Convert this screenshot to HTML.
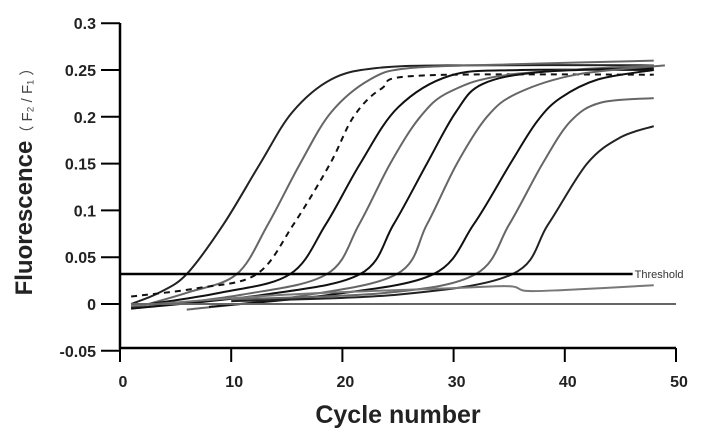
<!DOCTYPE html>
<html><head><meta charset="utf-8"><style>
body{margin:0;background:#fff;}
svg{display:block;font-family:"Liberation Sans",sans-serif;}
</style></head><body>
<svg id="chart" width="717" height="443"></svg>
<script>
const xTicks=[0,10,20,30,40,50];
const yTicks=[-0.05,0,0.05,0.1,0.15,0.2,0.25,0.3];
const yTickLabels=["-0.05","0","0.05","0.1","0.15","0.2","0.25","0.3"];
const thresholdValue=0.032;
const c1=[[1,0],[3.5,0.012],[6,0.032],[9.3,0.085],[12.6,0.15],[15.5,0.205],[19,0.24],[23,0.252],[30,0.255],[48,0.255]];
const c2=[[1,-0.005],[6,0.012],[10.5,0.032],[13.3,0.085],[16.2,0.15],[19,0.205],[22.5,0.24],[26,0.252],[35,0.256],[48,0.26]];
const c3=[[1,0.008],[7,0.017],[12.3,0.032],[15.6,0.085],[18.9,0.15],[21,0.2],[23.5,0.23],[27,0.244],[48,0.245]];
const c4=[[1,-0.003],[9,0.012],[15.3,0.032],[18.5,0.085],[21.6,0.15],[25,0.21],[29.7,0.244],[36,0.25],[48,0.25]];
const c5=[[1,-0.005],[11,0.01],[18.6,0.032],[21.5,0.085],[24.3,0.15],[27,0.2],[29.7,0.227],[35,0.245],[48,0.255]];
const c6=[[1,-0.005],[13,0.01],[21.6,0.032],[24.6,0.085],[27.6,0.15],[30.2,0.205],[32.6,0.235],[38,0.248],[48,0.252]];
const c7=[[6,-0.006],[16,0.008],[24.9,0.032],[27.6,0.085],[30.3,0.15],[33,0.2],[35.7,0.225],[41,0.245],[49,0.255]];
const c8=[[8,-0.003],[19,0.01],[28.2,0.032],[31.8,0.085],[35.1,0.15],[37.5,0.195],[39.6,0.22],[43,0.24],[48,0.25]];
const c9=[[10,0.005],[24,0.012],[32,0.032],[35,0.085],[38,0.15],[40.5,0.195],[43.2,0.215],[48,0.22]];
const c10=[[10,0.003],[25,0.01],[35.3,0.032],[38.5,0.085],[42,0.15],[45,0.178],[48,0.19]];
const c11=[[1,-0.002],[15,0.01],[30,0.017],[35,0.019],[36.5,0.014],[40,0.015],[48,0.02]];
const c12=[[1,0],[50,0]];
const series=[[c1,"#222",false],[c2,"#666",false],[c3,"#111",true],[c4,"#111",false],[c5,"#666",false],[c6,"#111",false],[c7,"#666",false],[c8,"#111",false],[c9,"#666",false],[c10,"#222",false],[c11,"#777",false],[c12,"#666",false]];
const NS="http://www.w3.org/2000/svg";
const svg=document.getElementById('chart');
const X=v=>120+v*11.12;
const Y=v=>304-v*936;
function mk(t,a,p){const e=document.createElementNS(NS,t);for(const k in a)e.setAttribute(k,a[k]);(p||svg).appendChild(e);return e;}
function path(pts){const P=pts.map(p=>[X(p[0]),Y(p[1])]);let d="M"+P[0][0]+","+P[0][1];
for(let i=0;i<P.length-1;i++){const p0=P[i-1]||P[i],p1=P[i],p2=P[i+1],p3=P[i+2]||p2;
d+=" C"+(p1[0]+(p2[0]-p0[0])/6)+","+(p1[1]+(p2[1]-p0[1])/6)+" "+(p2[0]-(p3[0]-p1[0])/6)+","+(p2[1]-(p3[1]-p1[1])/6)+" "+p2[0]+","+p2[1];}return d;}
series.forEach((s,i)=>{const e=mk('path',{d:path(s[0]),fill:'none',stroke:s[1],'stroke-width':2,'stroke-dasharray':s[2]?'6,5':'none'});

});
const th=mk('line',{x1:X(0),x2:X(46.1),y1:Y(thresholdValue),y2:Y(thresholdValue),stroke:'#000','stroke-width':2.5});


const tl=mk('text',{x:X(46.1)+2,y:Y(thresholdValue)+4,'font-size':11,fill:'#333'});tl.textContent='Threshold';


const ax=mk('path',{d:"M120,23 L120,348 L676,348",fill:'none',stroke:'#000','stroke-width':2.5});


yTicks.forEach((v,i)=>{mk('line',{x1:101,x2:120,y1:Y(v),y2:Y(v),stroke:'#000','stroke-width':2});
const t=mk('text',{x:96,y:Y(v)+6,'text-anchor':'end','font-size':16,'font-weight':'bold',fill:'#222'});t.textContent=yTickLabels[i];

});
xTicks.forEach(v=>{mk('line',{x1:X(v),x2:X(v),y1:348,y2:362,stroke:'#000','stroke-width':2});
const t=mk('text',{x:X(v)+3,y:387,'text-anchor':'middle','font-size':16,'font-weight':'bold',fill:'#222'});t.textContent=v;

});
const xt=mk('text',{x:398,y:423,'text-anchor':'middle','font-size':25,'font-weight':'bold',fill:'#222'});xt.textContent='Cycle number';


const yt=mk('text',{transform:'translate(32,178) rotate(-90)','text-anchor':'middle','font-size':24,'font-weight':'bold',fill:'#222'});
yt.innerHTML='Fluorescence<tspan font-size="15" font-weight="normal" fill="#444">（ F₂  /  F₁ ）</tspan>';


</script>
</body></html>
